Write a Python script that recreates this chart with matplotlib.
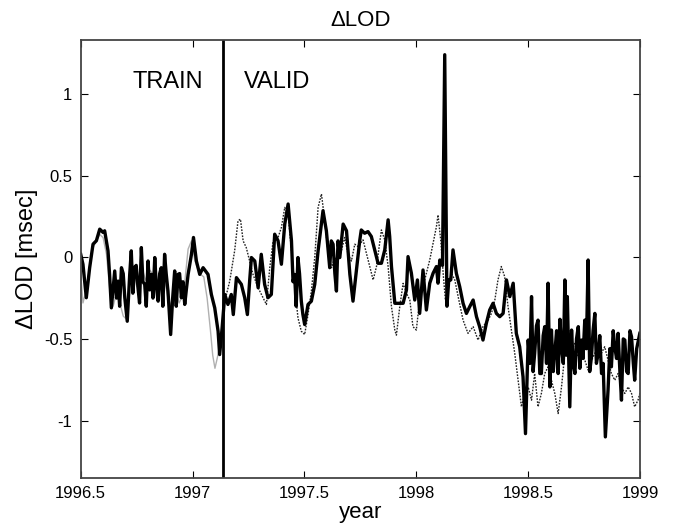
import matplotlib
matplotlib.use("Agg")
import matplotlib.pyplot as plt

plt.rcParams["font.family"] = ["Liberation Sans", "DejaVu Sans"]

# observed dLOD (solid black)
obs_year = [
    1996.500, 1996.510, 1996.525, 1996.540, 1996.555, 1996.570, 1996.585, 1996.600,
    1996.607, 1996.622, 1996.629, 1996.637, 1996.652, 1996.660, 1996.667, 1996.674,
    1996.682, 1996.690, 1996.697, 1996.708, 1996.719, 1996.726, 1996.733, 1996.741,
    1996.748, 1996.756, 1996.763, 1996.771, 1996.778, 1996.786, 1996.793, 1996.801,
    1996.808, 1996.816, 1996.823, 1996.831, 1996.838, 1996.846, 1996.853, 1996.860,
    1996.867, 1996.875, 1996.882, 1996.890, 1996.902, 1996.911, 1996.920, 1996.927,
    1996.935, 1996.942, 1996.950, 1996.957, 1996.965, 1996.972, 1996.980, 1996.995,
    1997.004, 1997.017, 1997.032, 1997.047, 1997.069, 1997.084, 1997.099, 1997.114,
    1997.121, 1997.132, 1997.144, 1997.158, 1997.173, 1997.182, 1997.196, 1997.218,
    1997.233, 1997.245, 1997.255, 1997.263, 1997.278, 1997.293, 1997.307, 1997.322,
    1997.337, 1997.352, 1997.367, 1997.382, 1997.397, 1997.412, 1997.427, 1997.442,
    1997.449, 1997.456, 1997.463, 1997.471, 1997.478, 1997.486, 1997.493, 1997.501,
    1997.516, 1997.531, 1997.546, 1997.561, 1997.576, 1997.583, 1997.598, 1997.613,
    1997.620, 1997.628, 1997.636, 1997.643, 1997.650, 1997.658, 1997.673, 1997.688,
    1997.703, 1997.717, 1997.732, 1997.747,
    1997.754, 1997.769, 1997.784, 1997.799, 1997.814, 1997.829, 1997.844, 1997.859,
    1997.874, 1997.881, 1997.889, 1997.904, 1997.918, 1997.941, 1997.956, 1997.963,
    1997.978, 1997.993, 1998.005, 1998.015, 1998.030, 1998.045, 1998.060, 1998.075,
    1998.090, 1998.097, 1998.105, 1998.117, 1998.127, 1998.137, 1998.145, 1998.154,
    1998.164, 1998.179, 1998.194, 1998.209, 1998.224, 1998.239, 1998.254, 1998.269,
    1998.283, 1998.298, 1998.313, 1998.328, 1998.343, 1998.358, 1998.373, 1998.388,
    1998.403, 1998.418, 1998.433, 1998.447, 1998.462, 1998.477, 1998.488, 1998.500,
    1998.508, 1998.515, 1998.522, 1998.529, 1998.537, 1998.544, 1998.552, 1998.559,
    1998.567, 1998.574, 1998.582, 1998.589, 1998.597, 1998.604, 1998.612, 1998.619,
    1998.627, 1998.634, 1998.642, 1998.649, 1998.657, 1998.664, 1998.670, 1998.675,
    1998.686, 1998.694, 1998.701, 1998.709, 1998.716, 1998.724, 1998.731, 1998.738,
    1998.745, 1998.753, 1998.760, 1998.768, 1998.775, 1998.783, 1998.790, 1998.798,
    1998.805, 1998.813, 1998.820, 1998.828, 1998.835, 1998.845, 1998.857, 1998.865,
    1998.872, 1998.880, 1998.887, 1998.895, 1998.902, 1998.910, 1998.917, 1998.925,
    1998.932, 1998.940, 1998.947, 1998.955, 1998.962, 1998.970, 1998.976, 1998.985,
    1998.999,
]
obs_val = [
    0.018, -0.043, -0.248, -0.064, 0.080, 0.101, 0.172, 0.152,
    0.162, 0.039, -0.105, -0.310, -0.084, -0.250, -0.146, -0.300,
    -0.064, -0.100, -0.248, -0.392, -0.105, 0.039, -0.220, -0.064,
    -0.050, -0.187, -0.280, 0.059, -0.150, -0.166, -0.300, -0.023,
    -0.200, -0.105, -0.250, -0.002, -0.180, -0.269, -0.100, -0.064,
    -0.300, 0.018, -0.100, -0.207, -0.473, -0.250, -0.084, -0.300,
    -0.105, -0.100, -0.248, -0.150, -0.289, -0.200, -0.105, 0.018,
    0.121, -0.023, -0.105, -0.064, -0.105, -0.228, -0.310, -0.453,
    -0.596, -0.433, -0.228, -0.289, -0.228, -0.351, -0.125, -0.166,
    -0.248, -0.351, -0.146, -0.002, -0.023, -0.187, 0.018, -0.166,
    -0.248, -0.228, 0.141, 0.101, -0.043, 0.203, 0.326, 0.101,
    -0.150, -0.105, -0.300, -0.002, -0.100, -0.269, -0.350, -0.412,
    -0.289, -0.269, -0.166, 0.039, 0.203, 0.285, 0.162, -0.064,
    0.100, 0.080, -0.100, -0.207, 0.100, -0.002, 0.203, 0.162,
    -0.105, -0.269, -0.084, 0.101,
    0.167, 0.147, 0.157, 0.127, 0.045, -0.037, -0.037, 0.045,
    0.229, 0.127, -0.057, -0.282, -0.282, -0.282, -0.200, 0.004,
    -0.098, -0.262, -0.139, -0.344, -0.078, -0.323, -0.159, -0.098,
    -0.057, -0.159, -0.017, -0.050, 1.240, -0.300, -0.139, -0.139,
    0.045, -0.098, -0.180, -0.282, -0.344, -0.302, -0.262, -0.364,
    -0.425, -0.507, -0.405, -0.323, -0.282, -0.344, -0.364, -0.344,
    -0.139, -0.241, -0.159, -0.466, -0.548, -0.732, -1.080, -0.507,
    -0.650, -0.241, -0.700, -0.589, -0.420, -0.385, -0.712, -0.712,
    -0.480, -0.425, -0.650, -0.159, -0.794, -0.446, -0.700, -0.589,
    -0.450, -0.712, -0.380, -0.560, -0.650, -0.139, -0.600, -0.241,
    -0.916, -0.446, -0.650, -0.712, -0.500, -0.425, -0.680, -0.507,
    -0.620, -0.385, -0.560, -0.017, -0.700, -0.609, -0.450, -0.344,
    -0.650, -0.589, -0.480, -0.712, -0.650, -1.100, -0.814, -0.560,
    -0.671, -0.450, -0.548, -0.620, -0.466, -0.700, -0.875, -0.500,
    -0.507, -0.700, -0.712, -0.450, -0.487, -0.650, -0.753, -0.560,
    -0.466,
]

# model output on training span (light grey)
train_year = [
    1996.500, 1996.510, 1996.525, 1996.540, 1996.555, 1996.570, 1996.585, 1996.600,
    1996.615, 1996.630, 1996.645, 1996.660, 1996.675, 1996.690, 1996.705, 1996.720,
    1996.735, 1996.750, 1996.770, 1996.790, 1996.810, 1996.830, 1996.850, 1996.870,
    1996.890, 1996.905, 1996.920, 1996.940, 1996.960, 1996.980, 1996.995, 1997.010,
    1997.030, 1997.050, 1997.065, 1997.080, 1997.090, 1997.100, 1997.110, 1997.120,
    1997.130, 1997.137,
]
train_val = [
    -0.10, -0.28, -0.20, -0.05, 0.06, 0.10, 0.14, 0.12,
    0.02, -0.20, -0.30, -0.22, -0.28, -0.36, -0.38, -0.15,
    -0.05, -0.18, -0.05, -0.14, -0.08, -0.12, -0.20, -0.10,
    -0.25, -0.30, -0.20, -0.28, -0.22, 0.05, 0.10, -0.02,
    -0.10, -0.12, -0.25, -0.45, -0.60, -0.68, -0.62, -0.55,
    -0.45, -0.40,
]

# model prediction on validation span (dotted)
valid_year = [
    1997.144, 1997.166, 1997.188, 1997.203, 1997.214, 1997.226, 1997.240, 1997.255,
    1997.270, 1997.293, 1997.315, 1997.330, 1997.345, 1997.360, 1997.382, 1997.397,
    1997.412, 1997.427, 1997.442, 1997.456, 1997.471, 1997.486, 1997.501, 1997.516,
    1997.531, 1997.546, 1997.561, 1997.576, 1997.591, 1997.606, 1997.621, 1997.635,
    1997.650, 1997.665, 1997.680, 1997.695, 1997.710, 1997.725,
    1997.740, 1997.762, 1997.777, 1997.792, 1997.807, 1997.822, 1997.844, 1997.859,
    1997.874, 1997.889, 1997.904, 1997.911, 1997.926, 1997.941, 1997.956, 1997.971,
    1997.985, 1998.000, 1998.015, 1998.030, 1998.045, 1998.060, 1998.075, 1998.090,
    1998.097, 1998.109, 1998.120, 1998.130, 1998.142, 1998.157, 1998.172, 1998.187,
    1998.209, 1998.231, 1998.254, 1998.276, 1998.298, 1998.321, 1998.336, 1998.351,
    1998.365, 1998.380, 1998.395, 1998.410, 1998.425, 1998.440, 1998.455, 1998.470,
    1998.485, 1998.500, 1998.515, 1998.529, 1998.544, 1998.559, 1998.574, 1998.589,
    1998.604, 1998.619, 1998.634, 1998.649, 1998.664, 1998.678, 1998.693, 1998.708,
    1998.723, 1998.738, 1998.753, 1998.768, 1998.783, 1998.798, 1998.813, 1998.827,
    1998.842, 1998.857, 1998.872, 1998.887, 1998.902, 1998.917, 1998.932, 1998.947,
    1998.962, 1998.976, 1998.991, 1998.999,
]
valid_val = [
    -0.269, -0.146, 0.039, 0.223, 0.233, 0.100, 0.059, -0.023,
    -0.105, -0.187, -0.248, -0.289, -0.064, 0.100, 0.121, 0.182,
    0.305, 0.264, 0.039, -0.166, -0.371, -0.453, -0.473, -0.351,
    -0.207, -0.002, 0.305, 0.387, 0.223, 0.018, -0.064, -0.002,
    -0.023, 0.039, 0.121, 0.018, -0.023, 0.080,
    0.065, 0.106, 0.024, -0.057, -0.139, -0.057, 0.167, 0.106,
    -0.057, -0.303, -0.446, -0.477, -0.303, -0.160, -0.221, -0.262,
    -0.425, -0.446, -0.262, -0.180, -0.098, -0.017, 0.086, 0.188,
    0.259, 0.106, -0.098, -0.262, -0.180, -0.098, -0.139, -0.241,
    -0.385, -0.466, -0.425, -0.507, -0.425, -0.385, -0.344, -0.262,
    -0.139, -0.057, -0.119, -0.303, -0.446, -0.589, -0.753, -0.916,
    -0.834, -0.794, -0.875, -0.712, -0.916, -0.834, -0.712, -0.671,
    -0.753, -0.834, -0.957, -0.794, -0.589, -0.507, -0.569, -0.528,
    -0.610, -0.589, -0.630, -0.691, -0.630, -0.589, -0.548, -0.589,
    -0.548, -0.630, -0.712, -0.753, -0.712, -0.794, -0.834, -0.794,
    -0.834, -0.916, -0.875, -0.834,
]

split_year = 1997.137

fig = plt.figure(figsize=(6.76, 5.26), dpi=100)
ax = fig.add_axes([0.1194, 0.0918, 0.8274, 0.8321])

ax.plot(train_year, train_val, color="#b0b0b0", lw=1.0)
ax.plot(valid_year, valid_val, color="#222222", lw=1.0, linestyle=(0, (1.2, 1.0)))
ax.plot(obs_year, obs_val, color="black", lw=2.4)
ax.axvline(split_year, color="black", lw=2.0)

ax.text(1996.887, 1.07, "TRAIN", fontsize=17, ha="center", va="center")
ax.text(1997.378, 1.07, "VALID", fontsize=17, ha="center", va="center")

ax.set_xlim(1996.5, 1999.0)
ax.set_ylim(-1.35, 1.33)
ax.set_xticks([1996.5, 1997, 1997.5, 1998, 1998.5, 1999])
ax.set_xticklabels(["1996.5", "1997", "1997.5", "1998", "1998.5", "1999"])
ax.set_yticks([-1, -0.5, 0, 0.5, 1])
ax.set_yticklabels(["-1", "-0.5", "0", "0.5", "1"])
ax.tick_params(direction="in", top=True, right=True, length=5, labelsize=12, pad=6)
for s in ax.spines.values():
    s.set_color("#444444")
    s.set_linewidth(1.3)

ax.set_title("\u0394LOD", fontsize=16, pad=10)
ax.set_xlabel("year", fontsize=16, labelpad=1)
ax.set_ylabel("\u0394LOD [msec]", fontsize=17, labelpad=4)

fig.savefig("out.png", dpi=100)
